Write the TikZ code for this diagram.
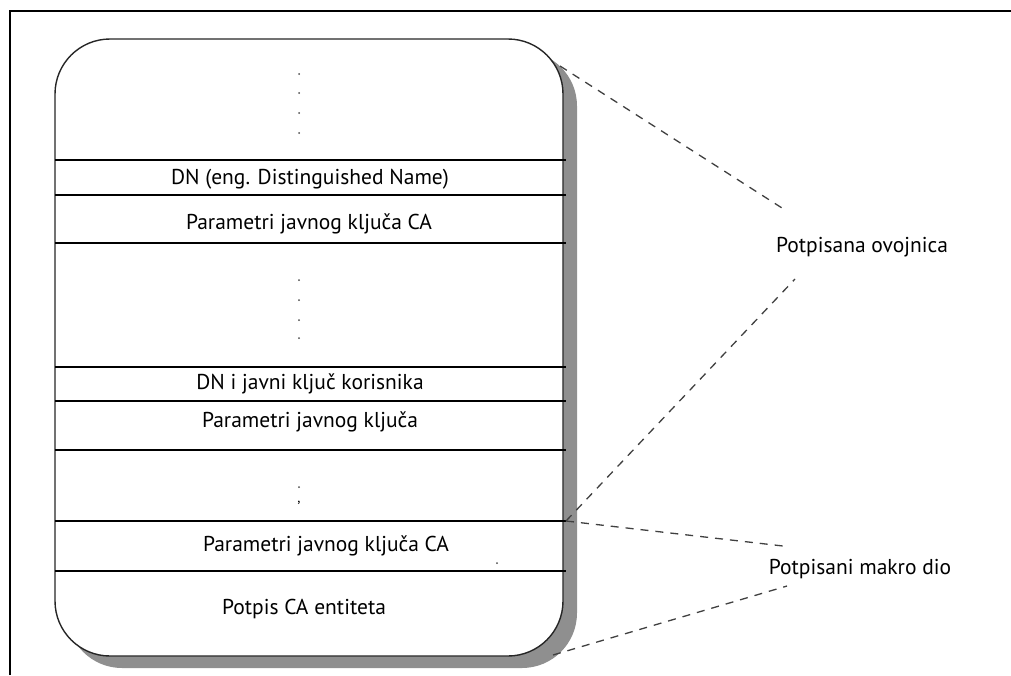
\documentclass[tikz,border=0pt]{standalone}
\usepackage{fontspec}
\setmainfont{PT Sans}
\begin{document}
\begin{tikzpicture}[x=1pt,y=-1pt,
  lbl/.style={inner sep=0pt,anchor=center,font=\fontsize{21.5}{24}\selectfont},
  sep/.style={line width=1.3pt,black},
  dashconn/.style={line width=1.3pt,black!75,dash pattern=on 8pt off 7pt},
  dotmark/.style={circle,fill=black!70,inner sep=0pt,minimum size=2pt}]
\useasboundingbox (0,0) rectangle (1011,675);
% frame
\draw[line width=2.6pt] (10,675) -- (10,11) -- (1011,11);
% shadow
\fill[black!44,rounded corners=55pt] (67,51) rectangle (577,668);
% box
\draw[fill=white,draw=black!85,line width=1.4pt,rounded corners=55pt] (55,39) rectangle (563,656);
% separators
\foreach \yy in {160,195,243,367,401,450,521,571}
  \draw[sep] (55,\yy) -- (566,\yy);
% texts
\node[lbl] (dn)   at (310,179) {DN (eng. Distinguished Name)};
\node[lbl] (pca)  at (309,224) {Parametri javnog ključa CA};
\node[lbl] (dnk)  at (310,384) {DN i javni ključ korisnika};
\node[lbl] (pj)   at (310,422) {Parametri javnog ključa};
\node[lbl] (pca2) at (326,546) {Parametri javnog ključa CA};
\node[lbl] (pot)  at (304,609) {Potpis CA entiteta};
\node[lbl] (ovo)  at (862,247) {Potpisana ovojnica};
\node[lbl] (mak)  at (860,569) {Potpisani makro dio};
% dots
\foreach \yy in {74,93,113,133,280,300,320,338,487}
  \node[dotmark] at (299,\yy) {};
\node[inner sep=0pt,font=\fontsize{14}{14}\selectfont] (cm) at (299,503) {,};
\node[dotmark] (d2) at (497,563) {};
% connector endpoints
\coordinate (tr) at (560,66);
\coordinate (ovoA) at (782,208);
\coordinate (mid) at (566,521);
\coordinate (ovoB) at (795,279);
\coordinate (makA) at (783,546);
\coordinate (br) at (553,655);
\coordinate (makB) at (787,586);
\draw[dashconn] (tr) -- (ovoA);
\draw[dashconn] (mid) -- (ovoB);
\draw[dashconn] (mid) -- (makA);
\draw[dashconn] (br) -- (makB);
\end{tikzpicture}
\end{document}
